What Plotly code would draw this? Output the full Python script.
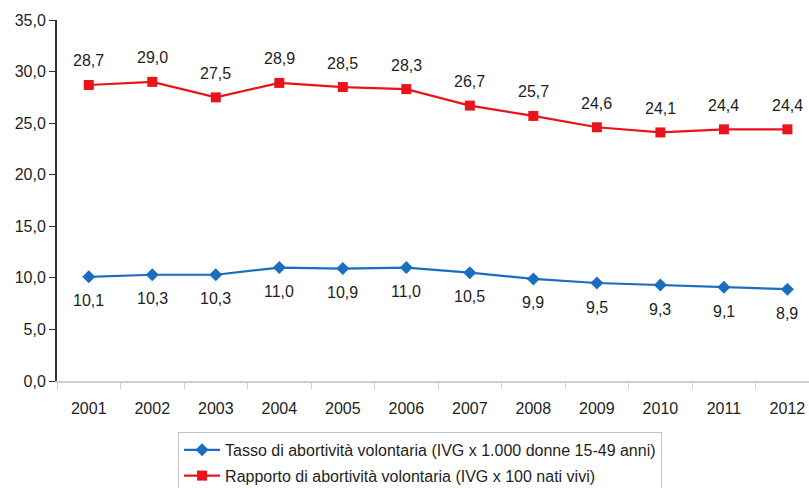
import plotly.graph_objects as go

years = ["2001", "2002", "2003", "2004", "2005", "2006", "2007", "2008", "2009", "2010", "2011", "2012"]
tasso = [10.1, 10.3, 10.3, 11.0, 10.9, 11.0, 10.5, 9.9, 9.5, 9.3, 9.1, 8.9]
rapporto = [28.7, 29.0, 27.5, 28.9, 28.5, 28.3, 26.7, 25.7, 24.6, 24.1, 24.4, 24.4]
name_tasso = "Tasso di abortività volontaria (IVG x 1.000 donne 15-49 anni)"
name_rapporto = "Rapporto di abortività volontaria (IVG x 100 nati vivi)"

blue = "#1a6dbf"
red = "#e8131b"
ink = "#1e1e1e"
font = "Liberation Sans, Arial, sans-serif"
fs = 16

fig = go.Figure()
fig.add_trace(go.Scatter(
    x=years, y=tasso, name=name_tasso, mode="lines+markers", legendgroup="tasso",
    line=dict(color=blue, width=2.2),
    marker=dict(symbol="diamond", size=10, color=blue),
))
fig.add_trace(go.Scatter(
    x=years, y=rapporto, name=name_rapporto, mode="lines+markers", legendgroup="rapporto",
    line=dict(color=red, width=2.2),
    marker=dict(symbol="square", size=10, color=red),
))

def fmt(v):
    return f"{v:.1f}".replace(".", ",")

# value labels: below the blue line, above the red line (category index as x)
for i, v in enumerate(tasso):
    fig.add_annotation(x=i, y=v, xref="x", yref="y", text=fmt(v), showarrow=False,
                       yshift=-24, font=dict(family=font, size=fs, color=ink))
for i, v in enumerate(rapporto):
    fig.add_annotation(x=i, y=v, xref="x", yref="y", text=fmt(v), showarrow=False,
                       yshift=24, font=dict(family=font, size=fs, color=ink))

fig.update_layout(
    width=809, height=488,
    margin=dict(l=57, r=0, t=20, b=107, autoexpand=False),
    paper_bgcolor="white", plot_bgcolor="white",
    separators=",.",
    font=dict(family=font, size=fs, color=ink),
    showlegend=True,
    legend=dict(
        x=0.161, y=-0.141, xanchor="left", yanchor="top",
        bordercolor="#c4c4c4", borderwidth=1, bgcolor="white",
        font=dict(family=font, size=fs, color=ink),
        tracegroupgap=2, itemwidth=36,
    ),
)
fig.update_xaxes(
    type="category", range=[-0.5, 11.34], automargin=False,
    showgrid=False, showline=True, linecolor="#d0d0d0", linewidth=1.5,
    ticks="outside", tickcolor="#d0d0d0", ticklen=6, tickson="boundaries",
    ticklabelstandoff=12,
    tickfont=dict(family=font, size=fs, color=ink),
)
fig.update_yaxes(
    range=[0, 35], dtick=5, tickformat=".1f", automargin=False,
    showgrid=False, showline=True, linecolor="#333333", linewidth=2,
    ticks="outside", tickcolor="#333333", ticklen=6,
    zeroline=False,
    tickfont=dict(family=font, size=fs, color=ink),
)

fig.write_html("out.html")
